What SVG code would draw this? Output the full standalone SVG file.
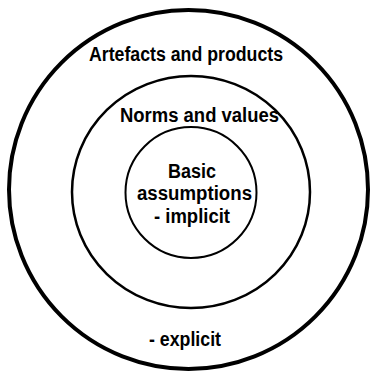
<svg xmlns="http://www.w3.org/2000/svg" width="370" height="374" viewBox="0 0 370 374">
  <style>
    .ring { fill: none; stroke: #000; }
    .label { font-family: "Liberation Sans", Arial, sans-serif; font-size: 19.5px; font-weight: bold; fill: #000; text-anchor: middle; }
  </style>
  <rect width="370" height="374" fill="#fff"/>
  <g id="outer-layer">
    <circle class="ring" cx="188.5" cy="189.5" r="179.5" stroke-width="4"/>
    <text class="label" x="186" y="61" textLength="194" lengthAdjust="spacingAndGlyphs">Artefacts and products</text>
    <text class="label" x="185" y="346" textLength="72" lengthAdjust="spacingAndGlyphs">- explicit</text>
  </g>
  <g id="middle-layer">
    <ellipse class="ring" cx="191" cy="192" rx="119" ry="116" stroke-width="2.5"/>
    <text class="label" x="199.5" y="122" textLength="159" lengthAdjust="spacingAndGlyphs">Norms and values</text>
  </g>
  <g id="core-layer">
    <circle class="ring" cx="191" cy="192.5" r="65.5" stroke-width="2"/>
    <text class="label" x="192" y="178" textLength="48" lengthAdjust="spacingAndGlyphs">Basic</text>
    <text class="label" x="194.5" y="200" textLength="115" lengthAdjust="spacingAndGlyphs">assumptions</text>
    <text class="label" x="192" y="223" textLength="76" lengthAdjust="spacingAndGlyphs">- implicit</text>
  </g>
</svg>
